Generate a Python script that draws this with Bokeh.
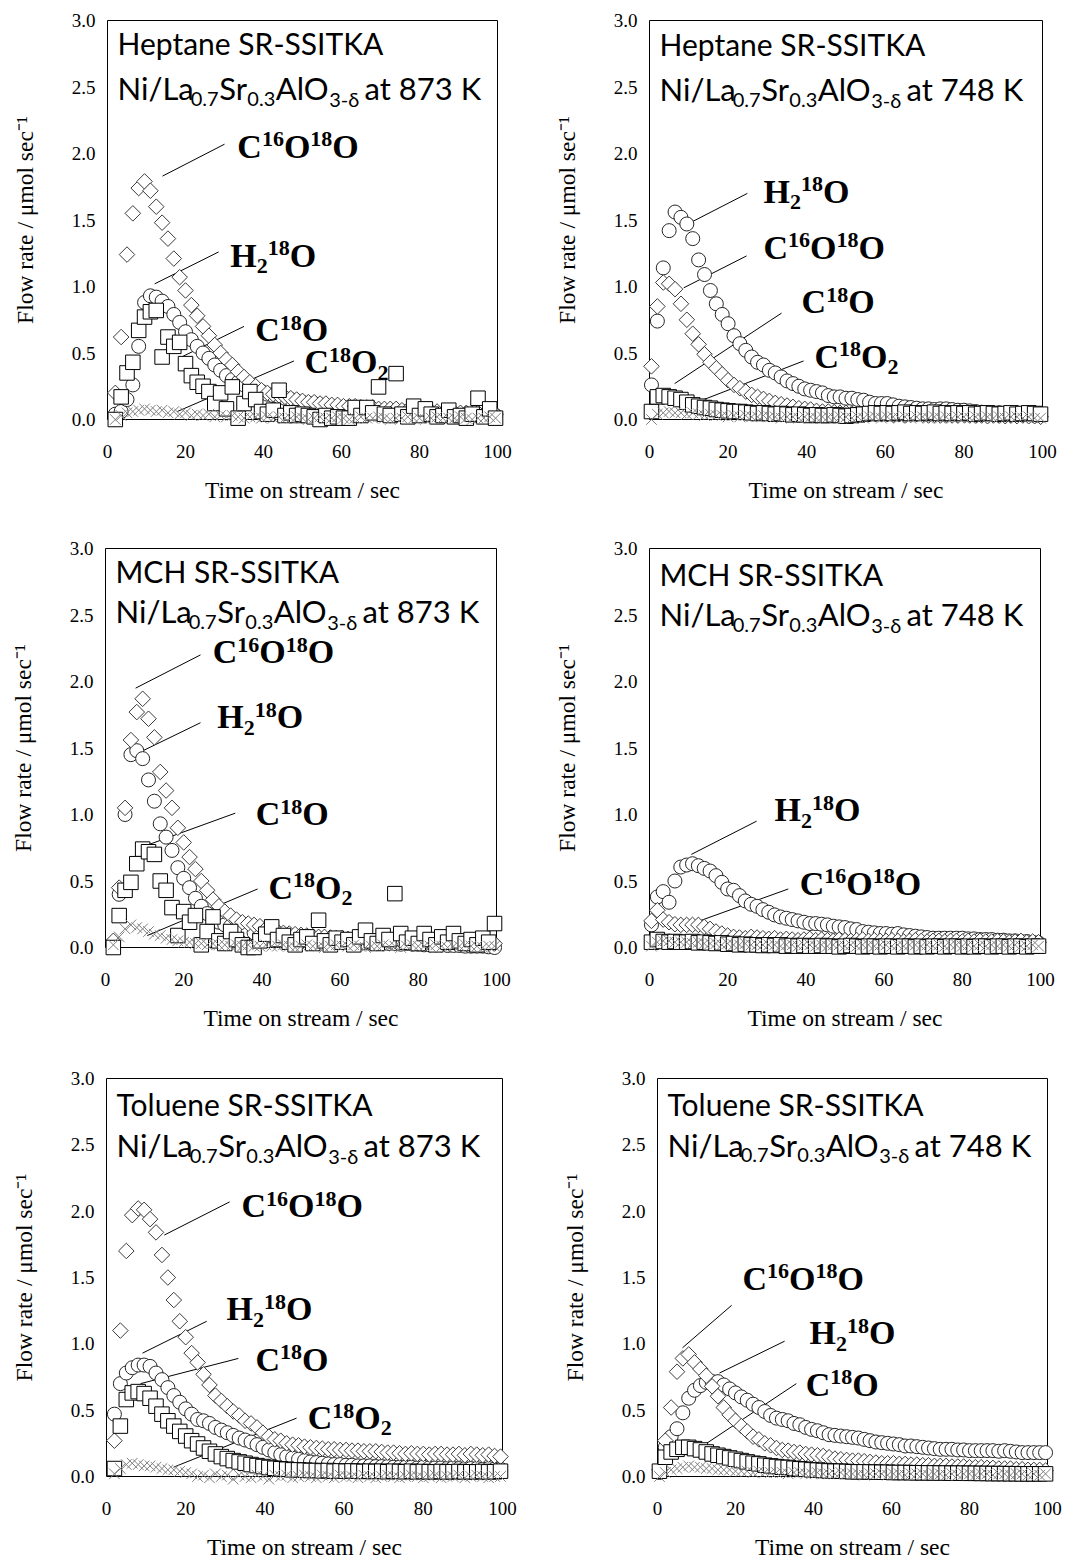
import numpy as np
from bokeh.plotting import figure
from bokeh.models import Range1d, FixedTicker, NumeralTickFormatter
from bokeh.layouts import column, row
from bokeh.embed import file_html
from bokeh.resources import INLINE
from bokeh.core.properties import value

# ---------------- data ----------------
t748 = [0.5, 2, 3.5, 5, 6.5, 8, 9.5, 11, 12.5, 14,
        15.5, 17, 18.5, 20, 21.5, 23, 24.5, 26, 27.5, 29,
        30.5, 32, 33.5, 35, 36.5, 38, 39.5, 41, 42.5, 44,
        45.5, 47, 48.5, 50, 51.5, 53, 54.5, 56, 57.5, 59,
        60.5, 62, 63.5, 65, 66.5, 68, 69.5, 71, 72.5, 74,
        75.5, 77, 78.5, 80, 81.5, 83, 84.5, 86, 87.5, 89,
        90.5, 92, 93.5, 95, 96.5, 98, 99.5]
t873 = [2, 3.5, 5, 6.5, 8, 9.5, 11, 12.5, 14,
        15.5, 17, 18.5, 20, 21.5, 23, 24.5, 26, 27.5, 29,
        30.5, 32, 33.5, 35, 36.5, 38, 39.5, 41, 42.5, 44,
        45.5, 47, 48.5, 50, 51.5, 53, 54.5, 56, 57.5, 59,
        60.5, 62, 63.5, 65, 66.5, 68, 69.5, 71, 72.5, 74,
        75.5, 77, 78.5, 80, 81.5, 83, 84.5, 86, 87.5, 89,
        90.5, 92, 93.5, 95, 96.5, 98, 99.5]

# Heptane, 873 K
hep873_c16o18o = [0.20, 0.62, 1.24, 1.55, 1.74, 1.79, 1.72, 1.60, 1.48,
                  1.36, 1.21, 1.07, 0.97, 0.86, 0.78, 0.70, 0.63, 0.56, 0.50,
                  0.45, 0.41, 0.36, 0.32, 0.28, 0.25, 0.22, 0.20, 0.19, 0.18,
                  0.17, 0.16, 0.15, 0.14, 0.13, 0.13, 0.12, 0.12, 0.11, 0.11,
                  0.10, 0.10, 0.10, 0.09, 0.09, 0.09, 0.08, 0.08, 0.08, 0.08,
                  0.07, 0.07, 0.07, 0.06, 0.06, 0.06, 0.06, 0.05, 0.05, 0.05,
                  0.05, 0.05, 0.04, 0.05, 0.04, 0.04, 0.04]
hep873_h2o = [0.04, 0.06, 0.15, 0.26, 0.55, 0.88, 0.93, 0.92, 0.89,
              0.85, 0.79, 0.73, 0.66, 0.60, 0.55, 0.50, 0.46, 0.41, 0.37,
              0.33, 0.30, 0.28, 0.26, 0.24, 0.22, 0.21, 0.19, 0.18, 0.17,
              0.16, 0.15, 0.14, 0.13, 0.12, 0.12, 0.11, 0.10, 0.10, 0.09,
              0.09, 0.09, 0.08, 0.08, 0.07, 0.07, 0.07, 0.06, 0.06, 0.06,
              0.06, 0.05, 0.05, 0.05, 0.05, 0.04, 0.04, 0.04, 0.04, 0.04,
              0.03, 0.03, 0.03, 0.03, 0.03, 0.03, 0.03]
hep873_c18o = [0.00, 0.17, 0.35, 0.43, 0.67, 0.77, 0.81, 0.82, 0.47,
               0.62, 0.55, 0.58, 0.42, 0.33, 0.28, 0.25, 0.21, 0.12, 0.20,
               0.08, 0.245, 0.01, 0.12, 0.21, 0.15, 0.06, 0.04, 0.07, 0.22,
               0.03, 0.05, 0.03, 0.04, 0.03, 0.02, 0.00, 0.03, 0.01, 0.02,
               0.01, 0.01, 0.09, 0.03, 0.09, 0.05, 0.245, 0.04, 0.03, 0.345,
               0.04, 0.02, 0.10, 0.03, 0.08, 0.04, 0.02, 0.03, 0.07, 0.02,
               0.03, 0.01, 0.04, 0.16, 0.02, 0.08, 0.01]
hep873_c18o2 = [0.00, 0.03, 0.05, 0.06, 0.07, 0.08, 0.07, 0.06, 0.07,
                0.05, 0.06, 0.04, 0.05, 0.03, 0.04, 0.03, 0.04, 0.02, 0.03,
                0.02, 0.03, 0.02, 0.01, 0.02, 0.02, 0.01, 0.02, 0.01, 0.02,
                0.01, 0.01, 0.02, 0.01, 0.00, 0.01, 0.02, 0.01, 0.01, 0.02,
                0.01, 0.00, 0.01, 0.02, 0.01, 0.01, 0.02, 0.01, 0.00, 0.01,
                0.01, 0.02, 0.01, 0.01, 0.00, 0.01, 0.02, 0.01, 0.01, 0.01,
                0.02, 0.01, 0.00, 0.01, 0.01, 0.02, 0.01]

# Heptane, 748 K
hep748_c16o18o = [0.40, 0.85, 1.03, 1.02, 0.98, 0.87, 0.75, 0.645, 0.565, 0.49,
                  0.43, 0.385, 0.34, 0.295, 0.26, 0.235, 0.21, 0.185, 0.17, 0.155,
                  0.14, 0.125, 0.115, 0.105, 0.095, 0.085, 0.08, 0.075, 0.065, 0.06,
                  0.06, 0.055, 0.05, 0.05, 0.045, 0.045, 0.04, 0.04, 0.04, 0.04,
                  0.04, 0.035, 0.04, 0.035, 0.035, 0.04, 0.035, 0.03, 0.035, 0.03,
                  0.035, 0.03, 0.03, 0.035, 0.03, 0.03, 0.03, 0.025, 0.03, 0.03,
                  0.025, 0.03, 0.025, 0.03, 0.025, 0.025, 0.02]
hep748_h2o = [0.26, 0.74, 1.14, 1.42, 1.56, 1.52, 1.47, 1.36, 1.20, 1.09,
              0.97, 0.87, 0.79, 0.72, 0.63, 0.57, 0.52, 0.47, 0.43, 0.41,
              0.37, 0.35, 0.32, 0.29, 0.27, 0.25, 0.23, 0.22, 0.21, 0.20,
              0.18, 0.17, 0.17, 0.16, 0.16, 0.15, 0.145, 0.13, 0.12, 0.12,
              0.12, 0.11, 0.10, 0.095, 0.09, 0.085, 0.08, 0.08, 0.075, 0.08,
              0.08, 0.075, 0.07, 0.07, 0.065, 0.06, 0.055, 0.05, 0.045, 0.05,
              0.045, 0.045, 0.04, 0.04, 0.035, 0.03, 0.03]
hep748_c18o = [0.06, 0.17, 0.18, 0.17, 0.16, 0.15, 0.13, 0.11, 0.10, 0.09,
               0.085, 0.075, 0.07, 0.065, 0.06, 0.06, 0.055, 0.05, 0.045, 0.05,
               0.045, 0.04, 0.045, 0.04, 0.035, 0.04, 0.035, 0.03, 0.035, 0.03,
               0.03, 0.035, 0.03, 0.025, 0.03, 0.035, 0.04, 0.045, 0.05, 0.045,
               0.05, 0.045, 0.05, 0.055, 0.045, 0.05, 0.045, 0.05, 0.055, 0.045,
               0.05, 0.045, 0.05, 0.045, 0.05, 0.04, 0.045, 0.05, 0.045, 0.04,
               0.045, 0.05, 0.04, 0.045, 0.05, 0.045, 0.04]
hep748_c18o2 = [0.00, 0.04, 0.05, 0.06, 0.05, 0.05, 0.04, 0.05, 0.04, 0.03,
                0.04, 0.03, 0.03, 0.02, 0.03, 0.02, 0.03, 0.02, 0.02, 0.03,
                0.02, 0.02, 0.01, 0.02, 0.02, 0.01, 0.02, 0.02, 0.01, 0.02,
                0.02, 0.01, 0.02, 0.02, 0.01, 0.02, 0.01, 0.02, 0.02, 0.01,
                0.02, 0.02, 0.01, 0.02, 0.01, 0.02, 0.02, 0.01, 0.02, 0.01,
                0.02, 0.01, 0.02, 0.02, 0.01, 0.02, 0.01, 0.02, 0.01, 0.02,
                0.01, 0.02, 0.02, 0.01, 0.02, 0.01, 0.01]

# MCH, 873 K
mch873_c16o18o = [0.05, 0.45, 1.05, 1.56, 1.77, 1.87, 1.72, 1.58, 1.32,
                  1.18, 1.05, 0.90, 0.79, 0.68, 0.59, 0.50, 0.43, 0.36, 0.31,
                  0.27, 0.24, 0.21, 0.19, 0.18, 0.17, 0.16, 0.14, 0.13, 0.12,
                  0.11, 0.105, 0.10, 0.095, 0.09, 0.085, 0.08, 0.08, 0.075, 0.07,
                  0.07, 0.065, 0.065, 0.06, 0.06, 0.055, 0.055, 0.05, 0.05, 0.05,
                  0.05, 0.045, 0.05, 0.045, 0.045, 0.04, 0.045, 0.04, 0.04, 0.045,
                  0.04, 0.04, 0.04, 0.035, 0.04, 0.035, 0.03]
mch873_h2o = [0.02, 0.40, 1.00, 1.45, 1.48, 1.42, 1.26, 1.10, 0.93,
              0.83, 0.73, 0.60, 0.52, 0.45, 0.37, 0.31, 0.255, 0.22, 0.19,
              0.17, 0.16, 0.15, 0.135, 0.125, 0.11, 0.10, 0.09, 0.085, 0.08,
              0.075, 0.07, 0.07, 0.065, 0.06, 0.06, 0.055, 0.05, 0.05, 0.045,
              0.045, 0.04, 0.04, 0.04, 0.035, 0.035, 0.03, 0.03, 0.03, 0.03,
              0.025, 0.03, 0.025, 0.025, 0.02, 0.02, 0.02, 0.02, 0.015, 0.015,
              0.015, 0.01, 0.01, 0.01, 0.01, 0.005, 0.00]
mch873_c18o = [0.00, 0.24, 0.43, 0.49, 0.63, 0.74, 0.72, 0.70, 0.50,
               0.43, 0.30, 0.09, 0.27, 0.19, 0.24, 0.02, 0.12, 0.23, 0.05,
               0.03, 0.12, 0.06, 0.02, 0.00, 0.00, 0.05, 0.10, 0.155, 0.06,
               0.09, 0.04, 0.02, 0.06, 0.08, 0.03, 0.205, 0.05, 0.02, 0.07,
               0.04, 0.06, 0.02, 0.08, 0.13, 0.05, 0.03, 0.09, 0.06, 0.405,
               0.105, 0.04, 0.07, 0.03, 0.105, 0.06, 0.02, 0.08, 0.04, 0.105,
               0.05, 0.03, 0.06, 0.02, 0.07, 0.04, 0.18]
mch873_c18o2 = [0.02, 0.08, 0.14, 0.17, 0.15, 0.14, 0.12, 0.10, 0.09,
                0.07, 0.06, 0.05, 0.04, 0.04, 0.03, 0.03, 0.02, 0.03, 0.02,
                0.02, 0.01, 0.02, 0.01, 0.02, 0.01, 0.01, 0.02, 0.01, 0.01,
                0.02, 0.01, 0.00, 0.01, 0.02, 0.01, 0.01, 0.00, 0.01, 0.02,
                0.01, 0.01, 0.02, 0.01, 0.00, 0.01, 0.01, 0.02, 0.01, 0.01,
                0.00, 0.01, 0.02, 0.01, 0.01, 0.01, 0.02, 0.01, 0.00, 0.01,
                0.01, 0.02, 0.01, 0.01, 0.00, 0.01, 0.01]

# MCH, 748 K
mch748_c16o18o = [0.20, 0.28, 0.21, 0.19, 0.175, 0.17, 0.17, 0.17, 0.17, 0.155,
                  0.14, 0.12, 0.105, 0.09, 0.08, 0.075, 0.07, 0.08, 0.075, 0.07,
                  0.065, 0.07, 0.06, 0.065, 0.06, 0.055, 0.06, 0.065, 0.055, 0.06,
                  0.055, 0.05, 0.06, 0.055, 0.05, 0.055, 0.06, 0.05, 0.055, 0.05,
                  0.05, 0.055, 0.05, 0.045, 0.05, 0.055, 0.05, 0.045, 0.05, 0.05,
                  0.045, 0.05, 0.05, 0.045, 0.05, 0.045, 0.05, 0.045, 0.045, 0.05,
                  0.045, 0.04, 0.045, 0.05, 0.04, 0.045, 0.04]
mch748_h2o = [0.17, 0.38, 0.42, 0.34, 0.50, 0.605, 0.62, 0.63, 0.615, 0.595,
              0.575, 0.54, 0.49, 0.44, 0.43, 0.39, 0.35, 0.325, 0.31, 0.285,
              0.265, 0.245, 0.23, 0.22, 0.21, 0.20, 0.19, 0.18, 0.18, 0.175,
              0.17, 0.16, 0.155, 0.15, 0.14, 0.135, 0.12, 0.115, 0.11, 0.105,
              0.105, 0.10, 0.105, 0.095, 0.09, 0.085, 0.08, 0.075, 0.07, 0.07,
              0.07, 0.07, 0.07, 0.07, 0.065, 0.065, 0.06, 0.06, 0.06, 0.055,
              0.055, 0.05, 0.05, 0.045, 0.045, 0.04, 0.035]
mch748_c18o = [0.04, 0.06, 0.045, 0.04, 0.045, 0.04, 0.04, 0.045, 0.035, 0.04,
               0.035, 0.03, 0.035, 0.025, 0.03, 0.02, 0.025, 0.02, 0.02, 0.015,
               0.02, 0.015, 0.02, 0.01, 0.015, 0.01, 0.015, 0.01, 0.01, 0.015,
               0.01, 0.01, 0.005, 0.01, 0.015, 0.01, 0.005, 0.01, 0.01, 0.005,
               0.01, 0.01, 0.005, 0.01, 0.01, 0.005, 0.01, 0.005, 0.01, 0.01,
               0.005, 0.01, 0.01, 0.005, 0.01, 0.005, 0.01, 0.01, 0.005, 0.01,
               0.01, 0.005, 0.01, 0.01, 0.005, 0.01, 0.01]
mch748_c18o2 = [0.01, 0.04, 0.05, 0.05, 0.04, 0.04, 0.04, 0.03, 0.04, 0.03,
                0.03, 0.03, 0.02, 0.03, 0.02, 0.02, 0.03, 0.02, 0.02, 0.02,
                0.02, 0.02, 0.01, 0.02, 0.02, 0.01, 0.02, 0.02, 0.01, 0.02,
                0.01, 0.02, 0.02, 0.01, 0.02, 0.01, 0.02, 0.02, 0.01, 0.02,
                0.02, 0.01, 0.02, 0.01, 0.02, 0.02, 0.01, 0.02, 0.01, 0.02,
                0.01, 0.02, 0.02, 0.01, 0.02, 0.01, 0.02, 0.01, 0.02, 0.01,
                0.02, 0.01, 0.02, 0.01, 0.01, 0.02, 0.01]

# Toluene, 873 K
tol873_c16o18o = [0.27, 1.10, 1.70, 1.97, 2.02, 2.01, 1.94, 1.84, 1.67,
                  1.50, 1.33, 1.17, 1.05, 0.93, 0.86, 0.77, 0.69, 0.61, 0.57,
                  0.53, 0.49, 0.46, 0.42, 0.40, 0.37, 0.33, 0.30, 0.28, 0.27,
                  0.25, 0.24, 0.235, 0.225, 0.22, 0.215, 0.21, 0.205, 0.205, 0.20,
                  0.20, 0.195, 0.195, 0.19, 0.19, 0.19, 0.185, 0.18, 0.18, 0.175,
                  0.17, 0.175, 0.17, 0.17, 0.165, 0.17, 0.17, 0.165, 0.165, 0.17,
                  0.16, 0.17, 0.165, 0.16, 0.165, 0.155, 0.15]
tol873_h2o = [0.47, 0.70, 0.78, 0.82, 0.84, 0.84, 0.83, 0.78, 0.73,
              0.67, 0.61, 0.56, 0.51, 0.47, 0.43, 0.42, 0.40, 0.37, 0.35,
              0.33, 0.31, 0.29, 0.275, 0.26, 0.24, 0.22, 0.20, 0.18, 0.165,
              0.15, 0.14, 0.13, 0.12, 0.11, 0.105, 0.10, 0.095, 0.09, 0.09,
              0.085, 0.085, 0.08, 0.08, 0.08, 0.075, 0.075, 0.075, 0.07, 0.07,
              0.07, 0.07, 0.065, 0.07, 0.065, 0.065, 0.065, 0.06, 0.065, 0.06,
              0.06, 0.06, 0.06, 0.055, 0.06, 0.055, 0.055]
tol873_c18o = [0.06, 0.38, 0.58, 0.63, 0.64, 0.625, 0.59, 0.53, 0.47,
               0.42, 0.38, 0.34, 0.305, 0.27, 0.245, 0.215, 0.19, 0.17, 0.15,
               0.135, 0.12, 0.11, 0.10, 0.09, 0.082, 0.075, 0.068, 0.062, 0.058,
               0.055, 0.05, 0.05, 0.048, 0.045, 0.045, 0.042, 0.045, 0.04, 0.042,
               0.04, 0.042, 0.04, 0.038, 0.04, 0.038, 0.04, 0.036, 0.04, 0.038,
               0.036, 0.04, 0.035, 0.038, 0.036, 0.035, 0.038, 0.035, 0.036, 0.038,
               0.035, 0.036, 0.035, 0.038, 0.035, 0.036, 0.04]
tol873_c18o2 = [0.02, 0.06, 0.09, 0.10, 0.09, 0.08, 0.08, 0.07, 0.06,
                0.05, 0.05, 0.04, 0.03, 0.02, 0.00, 0.01, -0.01, 0.02, 0.00,
                0.01, -0.02, 0.01, 0.00, -0.01, 0.01, 0.00, -0.02, 0.01, 0.00,
                0.01, -0.01, 0.00, 0.01, 0.00, -0.01, 0.01, 0.00, -0.01, 0.01,
                0.00, 0.00, -0.01, 0.01, 0.00, -0.01, 0.00, 0.01, 0.00, -0.01,
                0.00, 0.01, 0.00, -0.01, 0.00, 0.01, -0.01, 0.00, 0.00, 0.01,
                -0.01, 0.00, 0.01, 0.00, -0.01, 0.00, 0.00]

# Toluene, 748 K
tol748_c16o18o = [0.05, 0.27, 0.52, 0.79, 0.89, 0.92, 0.86, 0.81, 0.76, 0.68,
                  0.605, 0.52, 0.465, 0.42, 0.38, 0.34, 0.30, 0.28, 0.25, 0.235,
                  0.215, 0.20, 0.195, 0.185, 0.18, 0.17, 0.165, 0.16, 0.155, 0.145,
                  0.135, 0.13, 0.125, 0.12, 0.12, 0.115, 0.11, 0.105, 0.10, 0.10,
                  0.10, 0.095, 0.095, 0.09, 0.09, 0.085, 0.085, 0.08, 0.08, 0.08,
                  0.075, 0.075, 0.075, 0.07, 0.07, 0.07, 0.065, 0.065, 0.06, 0.06,
                  0.06, 0.055, 0.055, 0.05, 0.05, 0.05, 0.045]
tol748_h2o = [0.03, 0.22, 0.30, 0.36, 0.48, 0.59, 0.65, 0.685, 0.71, 0.715,
              0.715, 0.69, 0.66, 0.63, 0.60, 0.575, 0.545, 0.52, 0.49, 0.46,
              0.44, 0.43, 0.42, 0.40, 0.39, 0.37, 0.355, 0.345, 0.33, 0.315,
              0.31, 0.305, 0.30, 0.295, 0.29, 0.28, 0.27, 0.26, 0.255, 0.25,
              0.245, 0.24, 0.23, 0.23, 0.225, 0.22, 0.215, 0.21, 0.205, 0.205,
              0.205, 0.20, 0.20, 0.195, 0.195, 0.195, 0.195, 0.195, 0.19, 0.195,
              0.19, 0.185, 0.18, 0.18, 0.18, 0.18, 0.18]
tol748_c18o = [0.04, 0.145, 0.185, 0.205, 0.22, 0.22, 0.21, 0.20, 0.185, 0.17,
               0.16, 0.15, 0.14, 0.13, 0.12, 0.11, 0.10, 0.095, 0.085, 0.08,
               0.075, 0.07, 0.068, 0.062, 0.058, 0.055, 0.05, 0.048, 0.045, 0.042,
               0.04, 0.04, 0.038, 0.036, 0.035, 0.035, 0.034, 0.033, 0.032, 0.032,
               0.03, 0.03, 0.03, 0.029, 0.028, 0.028, 0.027, 0.027, 0.026, 0.026,
               0.025, 0.025, 0.025, 0.024, 0.024, 0.023, 0.023, 0.022, 0.022, 0.022,
               0.021, 0.021, 0.02, 0.02, 0.02, 0.02, 0.02]
tol748_c18o2 = [0.00, 0.03, 0.05, 0.06, 0.07, 0.08, 0.07, 0.07, 0.06, 0.06,
                0.05, 0.05, 0.05, 0.04, 0.04, 0.04, 0.03, 0.04, 0.03, 0.03,
                0.03, 0.03, 0.02, 0.03, 0.03, 0.02, 0.02, 0.03, 0.02, 0.02,
                0.02, 0.03, 0.02, 0.02, 0.02, 0.01, 0.02, 0.02, 0.02, 0.01,
                0.02, 0.02, 0.01, 0.02, 0.02, 0.02, 0.01, 0.02, 0.02, 0.01,
                0.02, 0.01, 0.02, 0.02, 0.01, 0.02, 0.02, 0.01, 0.02, 0.02,
                0.01, 0.02, 0.02, 0.01, 0.02, 0.01, 0.02]

x_ticks = [0, 20, 40, 60, 80, 100]
y_ticks = [0.0, 0.5, 1.0, 1.5, 2.0, 2.5, 3.0]

# ---------------- styling ----------------
SERIF = "Liberation Serif"
SANS = "Lato"
BOLD_W = {"C": 0.722, "O": 0.778, "H": 0.778}
LBL_F, LBL_S, SUP_RAISE, SUB_DROP = 34, 22, 11, 7
TITLE1_F = 30
TITLE_F, TITLE_S, TITLE_SUB_DROP = 31, 20, 7
BASE_FIX = 0.33  # empirical lift of the text baseline, in font-size units
LATO_W = {"N": 0.74, "i": 0.23, "/": 0.38, "L": 0.50, "a": 0.50, "S": 0.54, "r": 0.36,
          "A": 0.68, "l": 0.23, "O": 0.80, "t": 0.35, "K": 0.66, " ": 0.19, ".": 0.25,
          "-": 0.33, "\u03b4": 0.55}

FORMULAS = {
    "C16O18O": [("C", "n"), ("16", "sup"), ("O", "n"), ("18", "sup"), ("O", "n")],
    "H218O": [("H", "n"), ("2", "sub"), ("18", "sup"), ("O", "n")],
    "C18O": [("C", "n"), ("18", "sup"), ("O", "n")],
    "C18O2": [("C", "n"), ("18", "sup"), ("O", "n"), ("2", "sub")],
}


def bold_width(txt, kind):
    if kind == "n":
        return sum(BOLD_W.get(c, 0.5) for c in txt) * LBL_F
    return 0.5 * len(txt) * LBL_S


def lato_width(txt, size):
    return sum(LATO_W.get(c, 0.58) for c in txt) * size


def add_pieces(p, pieces, font, style, W, H):
    # pieces: (x_data, y_data, dx_px, dy_px_up, text, size_px)
    groups = {}
    for x, y, dx, dy, txt, size in pieces:
        g = groups.setdefault(size, {"x": [], "y": [], "t": []})
        g["x"].append(x + dx * 100.0 / W)
        g["y"].append(y + (dy + BASE_FIX * size) * 3.0 / H)
        g["t"].append(txt)
    for size, g in groups.items():
        p.text(x=g["x"], y=g["y"], text=g["t"], text_font=value(font),
               text_font_style=style, text_font_size=f"{size}px",
               text_color="black", text_align="left", text_baseline="alphabetic")


def add_formula(p, key, x, y, W, H):
    pieces, off = [], 0.0
    for txt, kind in FORMULAS[key]:
        dy = SUP_RAISE if kind == "sup" else (-SUB_DROP if kind == "sub" else 0)
        size = LBL_F if kind == "n" else LBL_S
        pieces.append((x, y, off, dy, txt, size))
        off += bold_width(txt, kind)
    add_pieces(p, pieces, SERIF, "bold", W, H)


def add_title(p, name, temp, W, H, dy1, dy2):
    x0 = 10 * 100.0 / W
    y1 = 3.0 - dy1 * 3.0 / H
    y2 = 3.0 - dy2 * 3.0 / H
    add_pieces(p, [(x0, y1, 0, 0, f"{name} SR-SSITKA", TITLE1_F)], SANS, "normal", W, H)
    segs = [("Ni/La", "n"), ("0.7", "sub"), ("Sr", "n"), ("0.3", "sub"),
            ("AlO", "n"), ("3-\u03b4", "sub"), (f"at {temp} K", "n")]
    pieces, off = [], 0.0
    for i, (txt, kind) in enumerate(segs):
        size = TITLE_F if kind == "n" else TITLE_S
        if i == len(segs) - 1:
            off += lato_width(" ", TITLE_F)
        pieces.append((x0, y2, off, -TITLE_SUB_DROP if kind == "sub" else 0, txt, size))
        off += lato_width(txt, size) + 0.3
    add_pieces(p, pieces, SANS, "normal", W, H)


def make_panel(t, dia, cir, sq, crs, name, temp, fig_h, borders, title_dy, labels, leaders):
    for arr in (dia, cir, sq, crs):
        if len(arr) != len(t):
            raise ValueError(f"length mismatch in {name} {temp}: {len(arr)} vs {len(t)}")
    bl, br, bt, bb = borders
    W = 536 - bl - br
    H = fig_h - bt - bb
    p = figure(width=536, height=fig_h, x_range=Range1d(0, 100), y_range=Range1d(0, 3),
               output_backend="svg", toolbar_location=None,
               min_border_left=bl, min_border_right=br, min_border_top=bt, min_border_bottom=bb,
               x_axis_label="Time on stream / sec", y_axis_label="Flow rate / \u03bcmol sec\u207b\u00b9")
    p.grid.visible = False
    p.outline_line_color = "black"
    p.outline_line_width = 1
    p.outline_line_alpha = 1.0
    p.background_fill_color = "white"
    p.border_fill_color = "white"
    for ax in (p.xaxis[0], p.yaxis[0]):
        ax.axis_line_color = None
        ax.major_tick_line_color = None
        ax.minor_tick_line_color = None
        ax.major_tick_out = 0
        ax.major_tick_in = 0
        ax.minor_tick_out = 0
        ax.minor_tick_in = 0
        ax.major_label_text_font = SERIF
        ax.major_label_text_font_size = "19px"
        ax.major_label_text_color = "black"
        ax.axis_label_text_font = SERIF
        ax.axis_label_text_font_size = "23.5px"
        ax.axis_label_text_font_style = "normal"
        ax.axis_label_text_color = "black"
    p.xaxis.ticker = FixedTicker(ticks=x_ticks)
    p.yaxis.ticker = FixedTicker(ticks=y_ticks)
    p.yaxis.formatter = NumeralTickFormatter(format="0.0")
    p.yaxis.major_label_standoff = 12
    p.yaxis.axis_label_standoff = 31
    p.xaxis.major_label_standoff = 25
    p.xaxis.axis_label_standoff = 16

    # markers: white filled, drawn in series order, not clipped at the frame
    p.scatter(t, cir, marker="circle", size=14, fill_color="white", line_color="#262626",
              line_width=1, level="overlay")
    p.scatter(t, dia, marker="square", angle=np.pi / 4, size=11, fill_color="white",
              line_color="#3a3a3a", line_width=1, level="overlay")
    p.scatter(t, sq, marker="square", size=14.5, fill_color="white", line_color="black",
              line_width=1, level="overlay")
    p.scatter(t, crs, marker="x", size=15, line_color="#808080", line_width=1, level="overlay")

    # leader lines and species labels
    p.segment(x0=[l[0] for l in leaders], y0=[l[1] for l in leaders],
              x1=[l[2] for l in leaders], y1=[l[3] for l in leaders],
              line_color="black", line_width=1)
    for key, x, y in labels:
        add_formula(p, key, x, y, W, H)
    add_title(p, name, temp, W, H, *title_dy)
    return p


p1 = make_panel(t873, hep873_c16o18o, hep873_h2o, hep873_c18o, hep873_c18o2,
                "Heptane", "873", 520, (107, 39, 20, 100), (32, 78),
                [("C16O18O", 33.3, 1.97), ("H218O", 31.5, 1.15), ("C18O", 37.9, 0.59), ("C18O2", 50.5, 0.35)],
                [(14.1, 1.83, 30.0, 2.07), (12.1, 1.02, 28.5, 1.26), (18.3, 0.46, 35.0, 0.70), (17.9, 0.06, 47.8, 0.44)])
p2 = make_panel(t748, hep748_c16o18o, hep748_h2o, hep748_c18o, hep748_c18o2,
                "Heptane", "748", 520, (113, 30, 19, 101), (33, 79),
                [("H218O", 29.0, 1.63), ("C16O18O", 29.0, 1.21), ("C18O", 38.7, 0.80), ("C18O2", 42.0, 0.39)],
                [(10.4, 1.48, 24.9, 1.70), (8.7, 0.99, 24.7, 1.23), (6.4, 0.27, 33.6, 0.80), (11.2, 0.12, 39.2, 0.44)])
p3 = make_panel(t873, mch873_c16o18o, mch873_h2o, mch873_c18o, mch873_c18o2,
                "MCH", "873", 520, (105, 40, 28, 93), (32, 73),
                [("C16O18O", 27.4, 2.14), ("H218O", 28.6, 1.65), ("C18O", 38.4, 0.92), ("C18O2", 41.7, 0.37)],
                [(7.7, 1.95, 24.3, 2.20), (8.2, 1.46, 24.3, 1.69), (10.7, 0.77, 33.2, 1.01), (10.7, 0.09, 38.9, 0.44)])
p4 = make_panel(t748, mch748_c16o18o, mch748_h2o, mch748_c18o, mch748_c18o2,
                "MCH", "748", 520, (113, 32, 26, 93), (36, 76),
                [("H218O", 32.0, 0.95), ("C16O18O", 38.4, 0.40)],
                [(10.7, 0.70, 27.4, 0.95), (12.8, 0.20, 35.5, 0.44)])
p5 = make_panel(t873, tol873_c16o18o, tol873_h2o, tol873_c18o, tol873_c18o2,
                "Toluene", "873", 522, (106, 34, 32, 85), (36, 78),
                [("C16O18O", 34.1, 1.96), ("H218O", 30.3, 1.18), ("C18O", 37.6, 0.80), ("C18O2", 50.8, 0.36)],
                [(14.6, 1.82, 31.1, 2.07), (9.1, 0.93, 25.3, 1.17), (8.6, 0.70, 33.3, 0.89), (16.9, 0.07, 48.0, 0.44)])
p6 = make_panel(t748, tol748_c16o18o, tol748_h2o, tol748_c18o, tol748_c18o2,
                "Toluene", "748", 522, (121, 25, 38, 83), (36, 77),
                [("C16O18O", 21.8, 1.41), ("H218O", 39.0, 1.00), ("C18O", 38.0, 0.61)],
                [(6.4, 0.97, 19.0, 1.29), (15.9, 0.78, 32.6, 1.02), (12.6, 0.25, 35.6, 0.70)])

layout = column(row(p1, p2), row(p3, p4), row(p5, p6))
open("out.html", "w").write(file_html(layout, INLINE))
